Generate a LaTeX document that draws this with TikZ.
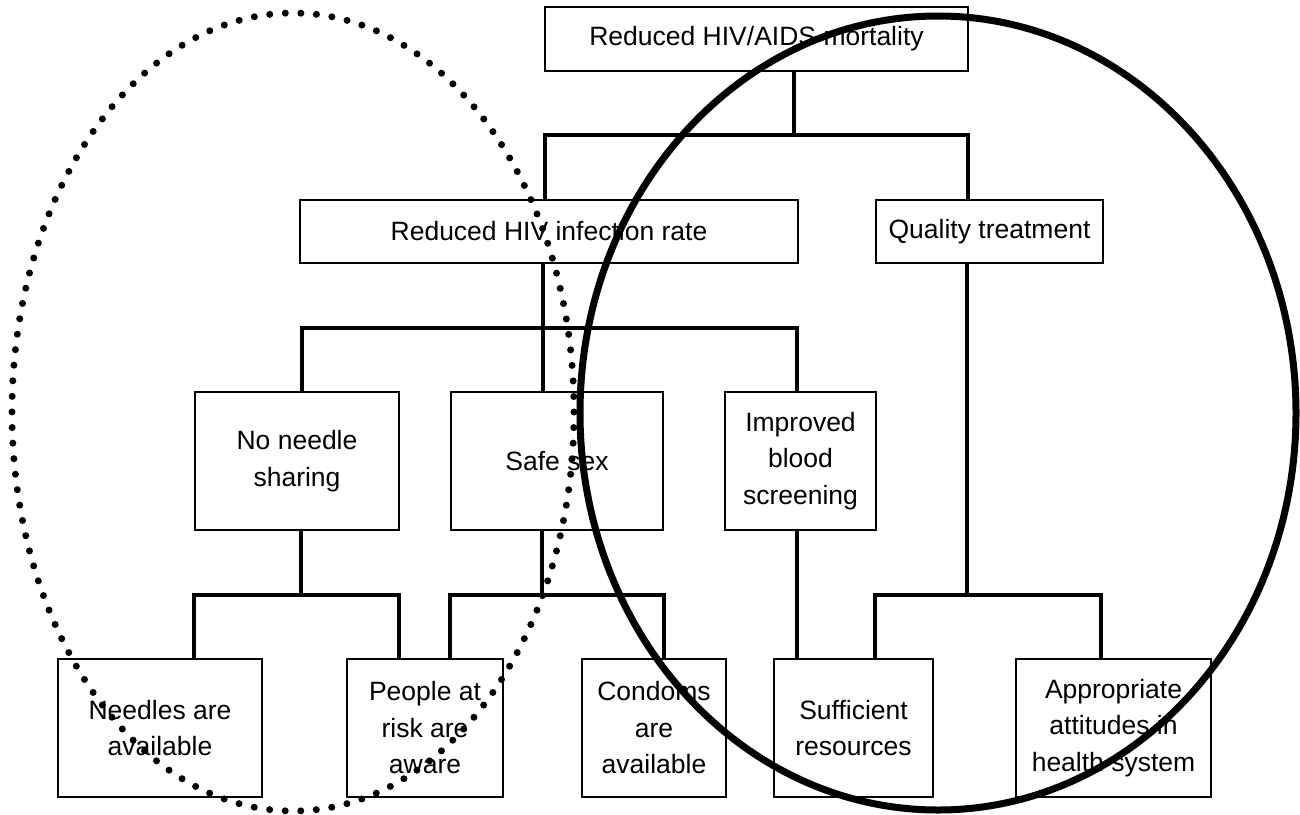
\documentclass[tikz,border=0pt]{standalone}
\usepackage{fontspec}
\setmainfont{Liberation Sans}
\begin{document}
\begin{tikzpicture}[x=1pt,y=-1pt,
  box/.style={draw,line width=1.6pt,fill=white,align=center,inner sep=0pt,
    font=\fontsize{26.5}{36.5}\selectfont},
  conn/.style={line width=4.5pt,line cap=rect},
  ring/.style={line width=7pt},
  dots/.style={line width=7pt,line cap=round,dash pattern=on 0pt off 15.6pt}]
\useasboundingbox (0,0) rectangle (1300,814);
% boxes
\node[box,minimum width=423pt,minimum height=64pt] (top) at (756.5,39) {Reduced HIV/AIDS mortality};
\node[box,minimum width=498pt,minimum height=63pt] (l2a) at (549,231.5) {Reduced HIV infection rate};
\node[box,minimum width=227pt,minimum height=63pt] (l2b) at (989.5,231.5) {Quality treatment};
\node[box,minimum width=204pt,minimum height=138pt] (l3a) at (297,461) {No needle\\sharing};
\node[box,minimum width=212pt,minimum height=138pt] (l3b) at (557,461) {Safe sex};
\node[box,minimum width=151pt,minimum height=138pt] (l3c) at (800.5,461) {Improved\\blood\\screening};
\node[box,minimum width=204pt,minimum height=138pt] (l4a) at (160,728) {Needles are\\available};
\node[box,minimum width=156pt,minimum height=138pt] (l4b) at (425,728) {People at\\risk are\\aware};
\node[box,minimum width=144pt,minimum height=138pt] (l4c) at (654,728) {Condoms\\are\\available};
\node[box,minimum width=159pt,minimum height=138pt] (l4d) at (853.5,728) {Sufficient\\resources};
\node[box,minimum width=195pt,minimum height=138pt] (l4e) at (1113.5,728) {Appropriate\\attitudes in\\health system};
% junction coordinates
\coordinate (j1) at (794,135);
\coordinate (j1L) at (545,135);
\coordinate (j1R) at (968,135);
\coordinate (j2) at (543,328);
\coordinate (j2L) at (302,328);
\coordinate (j2R) at (797,328);
\coordinate (j3) at (301,595);
\coordinate (j3L) at (194,595);
\coordinate (j3R) at (399,595);
\coordinate (j4) at (542,595);
\coordinate (j4L) at (450,595);
\coordinate (j4R) at (664,595);
\coordinate (j5) at (797,595);
\coordinate (j6) at (967,595);
\coordinate (j6L) at (875,595);
\coordinate (j6R) at (1101,595);
% connectors
\draw[conn] (top.south -| j1) -- (j1);
\draw[conn] (l2a.north -| j1L) -- (j1L) -- (j1R) -- (l2b.north -| j1R);
\draw[conn] (l2a.south -| j2) -- (j2);
\draw[conn] (l3a.north -| j2L) -- (j2L) -- (j2R) -- (l3c.north -| j2R);
\draw[conn] (j2) -- (l3b.north -| j2);
\draw[conn] (l3a.south -| j3) -- (j3);
\draw[conn] (l4a.north -| j3L) -- (j3L) -- (j3R) -- (l4b.north -| j3R);
\draw[conn] (l3b.south -| j4) -- (j4);
\draw[conn] (l4b.north -| j4L) -- (j4L) -- (j4R) -- (l4c.north -| j4R);
\draw[conn] (l3c.south -| j5) -- (l4d.north -| j5);
\draw[conn] (l2b.south -| j6) -- (j6);
\draw[conn] (l4d.north -| j6L) -- (j6L) -- (j6R) -- (l4e.north -| j6R);
% ellipses
\draw[dots] (293,412) ellipse [x radius=281, y radius=399];
\draw[ring] (938,413) ellipse [x radius=358, y radius=397];
\end{tikzpicture}
\end{document}
